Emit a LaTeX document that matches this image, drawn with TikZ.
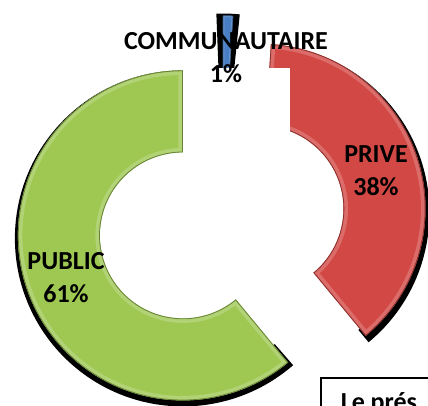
\documentclass[tikz,border=0pt]{standalone}
\usepackage{fontspec}
\setmainfont{Carlito}
\definecolor{pubgreen}{RGB}{158,200,82}
\definecolor{privred}{RGB}{210,72,68}
\definecolor{commblue}{RGB}{72,126,196}
\newcommand\ringpath[4]{(#1:#3) arc[start angle=#1, end angle=#2, radius=#3] -- (#2:#4) arc[start angle=#2, end angle=#1, radius=#4] -- cycle}

\begin{document}
\begin{tikzpicture}[x=1pt, y=1pt,
    shadowpart/.style={fill=black},
    glow/.style={line width=9pt, draw=#1!55!white, opacity=0.45},
    rim/.style={line width=1.6pt, draw=#1!65!black},
    slicelabel/.style={font=\fontsize{26}{33}\selectfont\bfseries, align=center, text=black},
    notebox/.style={draw, line width=1.5pt, anchor=north west, inner xsep=20pt, inner ysep=15pt, font=\fontsize{26}{30}\selectfont\bfseries}]

    \useasboundingbox (0,0) rectangle (428,-405);
    \clip (0,0) rectangle (428,-405);

    \begin{scope}[shift={(182.9,-235.4)}]
        \fill[shadowpart, shift={(0,-3)}] \ringpath{90}{311}{168}{140};
        \fill[pubgreen] \ringpath{90}{309.6}{165}{83};
        \clip \ringpath{90}{309.6}{165}{83};
        \draw[glow=pubgreen] \ringpath{90}{309.6}{165}{83};
        \draw[rim=pubgreen] \ringpath{90}{309.6}{165}{83};
    \end{scope}

    \begin{scope}[shift={(260.5,-208.8)}]
        \fill[shadowpart, shift={(1,-4)}] \ringpath{-50.4}{86.4}{168}{152};
        \fill[privred] \ringpath{-50.4}{86.4}{165}{83};
        \clip \ringpath{-50.4}{86.4}{165}{83};
        \draw[glow=privred] \ringpath{-50.4}{86.4}{165}{83};
        \draw[rim=privred] \ringpath{-50.4}{86.4}{165}{83};
    \end{scope}

    \begin{scope}[shift={(222.8,-180.5)}]
        \fill[shadowpart, shift={(0,-1)}] \ringpath{84.2}{92.2}{168}{83};
        \fill[commblue] \ringpath{86.4}{90}{165}{83};
        \clip \ringpath{86.4}{90}{165}{83};
        \draw[glow=commblue, line width=3pt] \ringpath{86.4}{90}{165}{83};
        \draw[rim=commblue, line width=1pt] \ringpath{86.4}{90}{165}{83};
    \end{scope}

    \fill[white] (183,-68) rectangle (290,-136);

    \node[slicelabel] (publicLabel) at (66,-278) {PUBLIC\\61\%};
    \node[slicelabel] (priveLabel) at (376,-171) {PRIVE\\38\%};
    \node[slicelabel] (commLabel) at (226,-58) {COMMUNAUTAIRE\\1\%};
    \node[notebox] (noteBox) at (320,-377) {Le prés};
\end{tikzpicture}
\end{document}
